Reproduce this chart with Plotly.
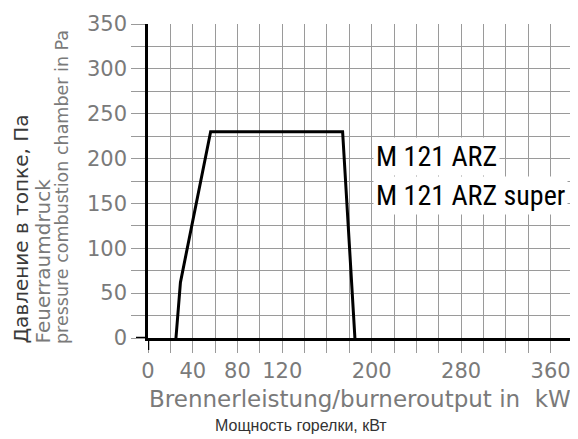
import plotly.graph_objects as go

# Data
power_kw = [25, 29, 56, 174, 185]
pressure_pa = [0, 62, 230, 230, 0]

x_tick_vals = [0, 40, 80, 120, 200, 280, 360]
x_tick_text = ["0", "40", "80", "120", "200", "280", "360"]
y_tick_vals = [0, 50, 100, 150, 200, 250, 300, 350]

model_lines = ["M 121 ARZ", "M 121 ARZ super"]

# page body adds an 8px offset; size the figure so the plot lands where the reference has it
W, H = 570, 431
L, R, T, B = 140, 5, 16, 101
# plot area in screen pixels: x 148..573, y 24..338
SX0, SX1, SY0, SY1 = 148, 573, 24, 338


def px(xs):
    return (xs - SX0) / (SX1 - SX0)


def py(ys):
    return (SY1 - ys) / (SY1 - SY0)


grid_col = "#9a9a9a"
text_gray = "#7a7a7a"
tick_font = dict(family="DejaVu Sans", size=21, color=text_gray)
label_family = "Liberation Sans Narrow, Roboto Condensed, DejaVu Sans Condensed, Arial Narrow, sans-serif"

fig = go.Figure()
fig.add_trace(go.Scatter(
    x=power_kw, y=pressure_pa, mode="lines",
    line=dict(color="black", width=3),
    hoverinfo="skip", showlegend=False,
))

fig.update_xaxes(
    range=[0, 380], tickvals=x_tick_vals, ticktext=x_tick_text,
    ticks="outside", ticklen=12, tickcolor=grid_col, tickwidth=1,
    showgrid=True, gridcolor=grid_col, gridwidth=1,
    minor=dict(dtick=20, showgrid=True, gridcolor=grid_col, gridwidth=1,
               ticks="outside", ticklen=12, tickcolor=grid_col, tickwidth=1),
    showline=True, linecolor="black", linewidth=2.5,
    zeroline=False, tickfont=tick_font, fixedrange=True, automargin=False,
)
fig.update_yaxes(
    range=[0, 350], tickvals=y_tick_vals,
    ticks="outside", ticklen=14, tickcolor=grid_col, tickwidth=1,
    showgrid=True, gridcolor=grid_col, gridwidth=1,
    minor=dict(dtick=25, showgrid=True, gridcolor=grid_col, gridwidth=1,
               ticks="outside", ticklen=14, tickcolor=grid_col, tickwidth=1),
    showline=True, linecolor="black", linewidth=2.5,
    zeroline=False, tickfont=tick_font, fixedrange=True, automargin=False,
)

# axis line extensions beyond the origin
fig.add_shape(type="line", xref="x", yref="paper", x0=0, x1=0,
              y0=0, y1=py(350), line=dict(color="black", width=2.5))
fig.add_shape(type="line", xref="paper", yref="y", x0=px(136), x1=0,
              y0=0, y1=0, line=dict(color="black", width=2.5))

ann = []
# model labels
ann.append(dict(x=px(373), y=py(156), xref="paper", yref="paper",
                text=model_lines[0], showarrow=False, xanchor="left", yanchor="middle",
                font=dict(family=label_family, size=28, color="black"),
                bgcolor="white", borderpad=2))
ann.append(dict(x=px(373), y=py(195), xref="paper", yref="paper",
                text=model_lines[1], showarrow=False, xanchor="left", yanchor="middle",
                font=dict(family=label_family, size=28, color="black"),
                bgcolor="white", borderpad=2))
# x titles
ann.append(dict(x=px(360), y=py(399), xref="paper", yref="paper",
                text="Brennerleistung/burneroutput in\u00a0\u00a0kW", showarrow=False,
                xanchor="center", yanchor="middle",
                font=dict(family="DejaVu Sans", size=23, color=text_gray)))
ann.append(dict(x=px(301), y=py(425), xref="paper", yref="paper",
                text="Мощность горелки, кВт", showarrow=False,
                xanchor="center", yanchor="middle",
                font=dict(family="Liberation Sans", size=16, color="#333333")))
# y titles (rotated)
ann.append(dict(x=px(20), y=py(346), xref="paper", yref="paper",
                text="Давление в топке, Па", showarrow=False, textangle=-90,
                xanchor="center", yanchor="bottom",
                font=dict(family="DejaVu Sans", size=20, color="#3a3a3a")))
ann.append(dict(x=px(42), y=py(346), xref="paper", yref="paper",
                text="Feuerraumdruck", showarrow=False, textangle=-90,
                xanchor="center", yanchor="bottom",
                font=dict(family="DejaVu Sans", size=20, color=text_gray)))
ann.append(dict(x=px(62), y=py(346), xref="paper", yref="paper",
                text="pressure combustion chamber in Pa", showarrow=False, textangle=-90,
                xanchor="center", yanchor="bottom",
                font=dict(family="DejaVu Sans", size=17.5, color=text_gray)))

fig.update_layout(
    width=W, height=H,
    margin=dict(l=L, r=R, t=T, b=B, autoexpand=False),
    paper_bgcolor="white", plot_bgcolor="white",
    annotations=ann, showlegend=False,
)

fig.write_html("out.html")
